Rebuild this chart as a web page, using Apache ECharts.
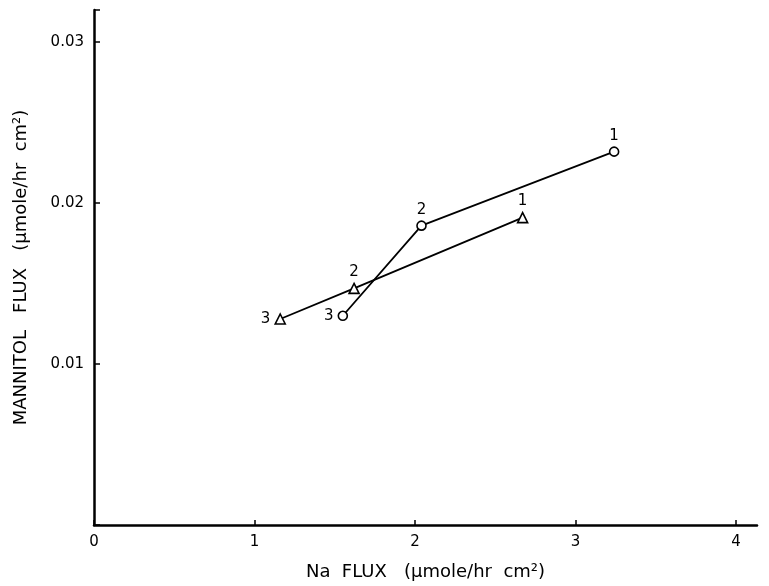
<!DOCTYPE html>
<html>
<head>
<meta charset="utf-8">
<script src="https://cdn.jsdelivr.net/npm/echarts@6/dist/echarts.min.js"></script>
<style>
html,body{margin:0;padding:0;background:#fff;}
#chart{width:769px;height:586px;}
</style>
</head>
<body>
<div id="chart"></div>
<script>
// Data
const circleX = [3.24, 2.04, 1.55];
const circleY = [0.0232, 0.0186, 0.0130];
const circleLabels = ['1', '2', '3'];
const triangleX = [2.67, 1.62, 1.16];
const triangleY = [0.0191, 0.0147, 0.0128];
const triangleLabels = ['1', '2', '3'];
const xTicks = [0, 1, 2, 3, 4];
const yTicks = [0.01, 0.02, 0.03];
const xTitle = 'Na  FLUX   (\u03bcmole/hr  cm\u00b2)';
const yTitle = 'MANNITOL   FLUX   (\u03bcmole/hr  cm\u00b2)';

const font = 'DejaVu Sans';

function build(xs, ys, labels) {
  return xs.map((x, i) => {
    const isLeft = labels[i] === '3';
    return {
      value: [x, ys[i]],
      label: {
        show: true,
        formatter: labels[i],
        position: isLeft ? 'left' : 'top',
        distance: isLeft ? 4 : 3,
        color: '#000',
        fontFamily: font,
        fontSize: 15
      }
    };
  });
}

const chart = echarts.init(document.getElementById('chart'));
chart.setOption({
  backgroundColor: '#fff',
  animation: false,
  grid: {left: 94, right: 12, top: 10, bottom: 57, containLabel: false},
  xAxis: {
    type: 'value', min: 0, max: 4.13, interval: 1,
    axisLine: {onZero: false, lineStyle: {color: '#000', width: 2.5}},
    axisTick: {show: true, inside: true, length: 5, lineStyle: {color: '#000', width: 1.5}},
    splitLine: {show: false},
    axisLabel: {
      color: '#000', fontFamily: font, fontSize: 15, margin: 10,
      showMaxLabel: false,
      formatter: v => xTicks.includes(v) ? String(v) : ''
    },
    name: xTitle, nameLocation: 'middle', nameGap: 38,
    nameTextStyle: {color: '#000', fontFamily: font, fontSize: 18}
  },
  yAxis: {
    type: 'value', min: 0, max: 0.032, interval: 0.01,
    axisLine: {onZero: false, lineStyle: {color: '#000', width: 2.5}},
    axisTick: {show: true, inside: true, length: 6, lineStyle: {color: '#000', width: 1.5}},
    splitLine: {show: false},
    axisLabel: {
      color: '#000', fontFamily: font, fontSize: 15, margin: 10,
      formatter: v => {
        const t = yTicks.find(k => Math.abs(k - v) < 1e-9);
        return t !== undefined ? t.toFixed(2) : '';
      }
    },
    name: yTitle, nameLocation: 'middle', nameGap: 64,
    nameTextStyle: {color: '#000', fontFamily: font, fontSize: 18}
  },
  series: [
    {
      type: 'line',
      data: build(circleX, circleY, circleLabels),
      symbol: 'circle', symbolSize: 9,
      lineStyle: {color: '#000', width: 1.8},
      itemStyle: {color: '#fff', borderColor: '#000', borderWidth: 1.6},
      z: 3
    },
    {
      type: 'line',
      data: build(triangleX, triangleY, triangleLabels),
      symbol: 'triangle', symbolSize: 10,
      lineStyle: {color: '#000', width: 1.8},
      itemStyle: {color: '#fff', borderColor: '#000', borderWidth: 1.6},
      z: 3
    }
  ]
});
</script>
</body>
</html>
